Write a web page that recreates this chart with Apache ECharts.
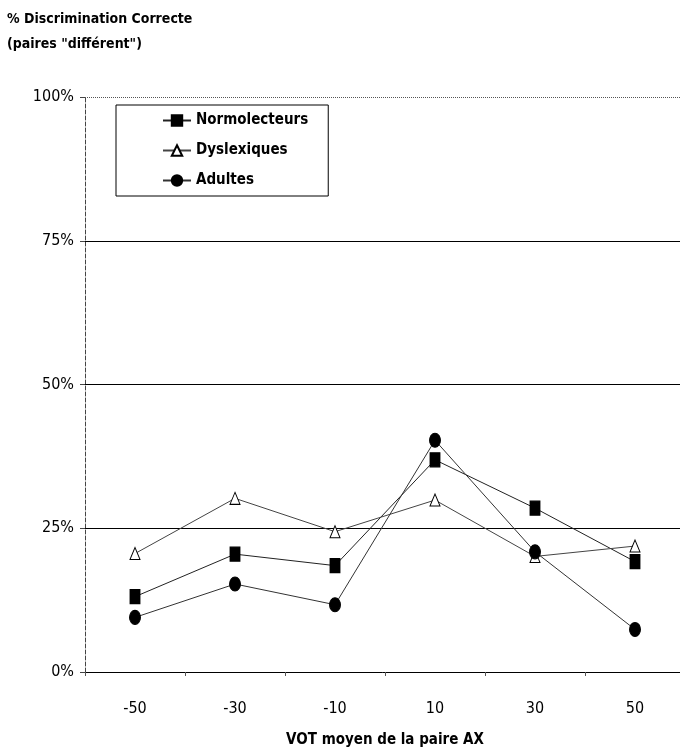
<!DOCTYPE html>
<html>
<head>
<meta charset="utf-8">
<script src="https://cdn.jsdelivr.net/npm/echarts@6/dist/echarts.min.js"></script>
<style>
html,body{margin:0;padding:0;background:#fff;}
#c{width:680px;height:750px;}
</style>
</head>
<body>
<div id="c"></div>
<script>
var categories = ['-50', '-30', '-10', '10', '30', '50'];
var normolecteurs = [13.1, 20.5, 18.5, 36.9, 28.5, 19.2];
var dyslexiques = [20.6, 30.2, 24.4, 29.9, 20.1, 21.9];
var adultes = [9.5, 15.3, 11.7, 40.3, 20.9, 7.4];
var yTicks = [0, 25, 50, 75, 100];
var gridLevels = [25, 50, 75];

var FONT = '"DejaVu Sans Condensed", "Liberation Sans Narrow", "Arial Narrow", "Liberation Sans", sans-serif';

var chart = echarts.init(document.getElementById('c'), null, {renderer: 'canvas'});

function mkSeries(name, data, symbol, size, fill, color) {
  return {
    name: name, type: 'line', data: data,
    symbol: symbol, symbolSize: size,
    lineStyle: {color: color, width: 1},
    itemStyle: {color: fill, borderColor: '#000', borderWidth: 1},
    z: 5
  };
}

var series = [
  mkSeries('Normolecteurs', normolecteurs, 'rect', [10, 14], '#000', '#222'),
  mkSeries('Dyslexiques', dyslexiques, 'triangle', [10, 12], '#fff', '#444'),
  mkSeries('Adultes', adultes, 'circle', [11, 14], '#000', '#333')
];
series[0].markLine = {
  silent: true, symbol: 'none', label: {show: false},
  data: gridLevels.map(function (v) {
    return {yAxis: v, lineStyle: {color: '#000', width: 1, type: 'solid'}};
  }).concat([{yAxis: 100, lineStyle: {color: '#555', width: 1, type: 'dotted'}}]),
  z: 1
};

chart.setOption({
  animation: false,
  backgroundColor: '#fff',
  textStyle: {fontFamily: FONT},
  title: {
    text: '% Discrimination Correcte\n(paires "différent")',
    left: 2, top: 2,
    textStyle: {fontFamily: FONT, fontSize: 14, fontWeight: 'bold', color: '#000', lineHeight: 25}
  },
  legend: {
    orient: 'vertical',
    left: 116, top: 105,
    padding: [8, 20, 8, 46],
    itemGap: 15,
    itemWidth: 28, itemHeight: 13,
    borderColor: '#000', borderWidth: 1,
    backgroundColor: '#fff',
    textStyle: {fontFamily: FONT, fontSize: 15, fontWeight: 'bold', color: '#000'},
    data: ['Normolecteurs', 'Dyslexiques', 'Adultes']
  },
  grid: {left: 85, top: 97, width: 600, height: 575, containLabel: false, outerBoundsMode: 'none'},
  xAxis: {
    type: 'category',
    data: categories,
    boundaryGap: true,
    name: 'VOT moyen de la paire AX',
    nameLocation: 'middle',
    nameGap: 61,
    nameTextStyle: {fontFamily: FONT, fontSize: 15, fontWeight: 'bold', color: '#000'},
    axisLine: {lineStyle: {color: '#000', width: 1}},
    axisTick: {show: true, inside: false, length: 4, lineStyle: {color: '#555'}},
    axisLabel: {fontFamily: FONT, fontSize: 16, color: '#000', margin: 29}
  },
  yAxis: {
    type: 'value',
    min: 0, max: 100, interval: 25,
    axisLine: {show: true, lineStyle: {color: '#444', width: 1, type: 'dashed'}},
    axisTick: {show: true, length: 5, lineStyle: {color: '#444'}},
    splitLine: {show: false},
    axisLabel: {
      fontFamily: FONT, fontSize: 16, color: '#000', margin: 11,
      formatter: function (v) { return yTicks.indexOf(v) >= 0 ? v + '%' : ''; }
    }
  },
  series: series
});
</script>
</body>
</html>
